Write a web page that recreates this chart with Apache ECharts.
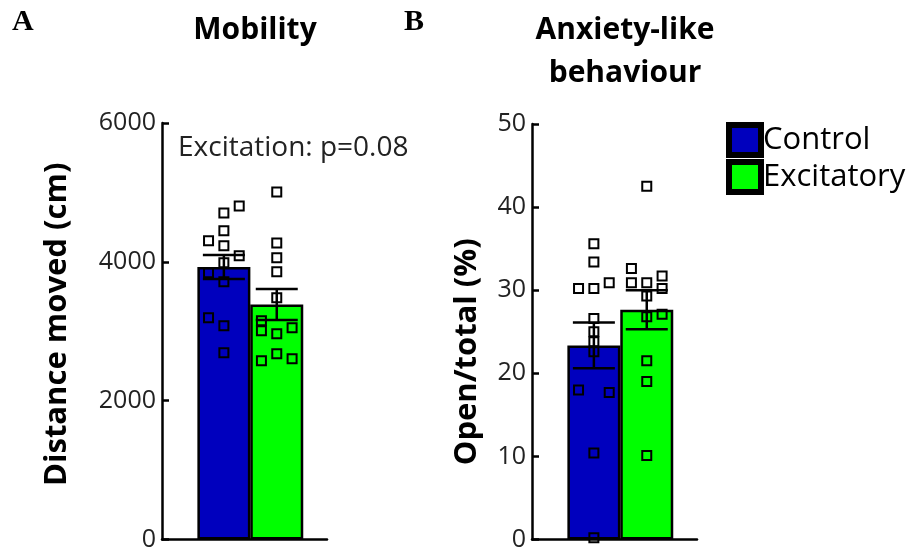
<!DOCTYPE html>
<html>
<head>
<meta charset="utf-8">
<script src="https://cdn.jsdelivr.net/npm/echarts@6/dist/echarts.min.js"></script>
<style>
  html, body { margin: 0; padding: 0; background: #fff; }
  #chartmain { width: 915px; height: 552px; }
</style>
</head>
<body>
<div id="chartmain"></div>
<script>
// groups
var groups = ['Control', 'Excitatory'];
var colors = ['#0000BE', '#00FF00'];

// panel A: distance moved (cm)
var meanA = [3925, 3385];
var semA = [172, 224];
var ctrlA = [4806, 4705, 4446, 4302, 4230, 4086, 3986, 3842, 3712, 3194, 3079, 2691];
var ctrlAcol = [1, 0, 0, -1, 0, 1, 0, -1, 0, -1, 0, 0];
var excA = [5007, 4273, 4058, 3856, 3482, 3151, 3007, 3050, 2964, 2576, 2676, 2604];
var excAcol = [0, 0, 0, 0, 0, -1, -1, 1, 0, -1, 0, 1];
var ticksA = [0, 2000, 4000, 6000];

// panel B: open/total (%)
var meanB = [23.35, 27.65];
var semB = [2.75, 2.35];
var ctrlB = [35.6, 33.4, 30.2, 30.2, 30.9, 26.6, 25.0, 23.8, 22.6, 18.0, 17.7, 10.4, 0.2];
var ctrlBcol = [0, 0, -1, 0, 1, 0, 0, 0, 0, -1, 1, 0, 0];
var excB = [42.5, 32.6, 30.9, 30.9, 31.7, 30.2, 29.3, 26.8, 27.1, 21.5, 19.0, 10.1];
var excBcol = [0, -1, -1, 0, 1, 1, 0, 0, 1, 0, 0, 0];
var ticksB = [0, 10, 20, 30, 40, 50];

var JIT = 0.29;
var sans = 'Open Sans';

function pts(vals, cols, g) {
  return vals.map(function (v, i) { return [g + cols[i] * JIT, v]; });
}

function errSeries(idx, means, sems) {
  return {
    type: 'custom',
    xAxisIndex: idx, yAxisIndex: idx,
    z: 5,
    silent: true,
    data: means.map(function (m, i) { return [i, m - sems[i], m + sems[i]]; }),
    renderItem: function (params, api) {
      var x = api.value(0);
      var lo = api.coord([x, api.value(1)]);
      var hi = api.coord([x, api.value(2)]);
      var hw = 21;
      var st = { stroke: '#000', lineWidth: 2.5 };
      return {
        type: 'group',
        children: [
          { type: 'line', shape: { x1: lo[0], y1: lo[1], x2: hi[0], y2: hi[1] }, style: st },
          { type: 'line', shape: { x1: lo[0] - hw, y1: lo[1], x2: lo[0] + hw, y2: lo[1] }, style: st },
          { type: 'line', shape: { x1: hi[0] - hw, y1: hi[1], x2: hi[0] + hw, y2: hi[1] }, style: st }
        ]
      };
    }
  };
}

function barSeries(idx, means, g) {
  return {
    name: groups[g],
    type: 'bar',
    xAxisIndex: idx, yAxisIndex: idx,
    barWidth: 53,
    barGap: '-100%',
    data: [[g, means[g]]],
    itemStyle: { color: colors[g], borderColor: '#000', borderWidth: 2.5 },
    z: 2
  };
}

// hollow squares: the bar colour shows through inside the bars
function dotSeries(idx, vals, cols, g) {
  return {
    type: 'scatter',
    xAxisIndex: idx, yAxisIndex: idx,
    symbol: 'rect',
    symbolSize: 9,
    data: pts(vals, cols, g),
    itemStyle: { color: 'rgba(0,0,0,0)', borderColor: '#000', borderWidth: 2, opacity: 1 },
    z: 4
  };
}

var axisLine = { show: true, onZero: false, lineStyle: { color: '#000', width: 2.5 } };

function xAx(idx) {
  return {
    gridIndex: idx, type: 'value', min: -1.17, max: 1.95,
    axisLine: axisLine, axisTick: { show: false }, axisLabel: { show: false },
    splitLine: { show: false }
  };
}

function yAx(idx, ticks, name, gap, pad) {
  return {
    gridIndex: idx, type: 'value',
    min: ticks[0], max: ticks[ticks.length - 1], interval: ticks[1] - ticks[0],
    name: name, nameLocation: 'middle', nameGap: gap,
    nameTextStyle: { fontFamily: sans, fontWeight: 'bold', fontSize: 31, color: '#000', padding: pad },
    axisLine: axisLine,
    axisTick: { show: true, inside: true, length: 7, lineStyle: { color: '#000', width: 2.5 } },
    axisLabel: { fontFamily: sans, fontSize: 25, color: '#222', margin: 6, formatter: function (v) { return String(v); } },
    splitLine: { show: false }
  };
}

var bold = { fontFamily: sans, fontWeight: 'bold', fontSize: 30, color: '#000' };
var serif = { fontFamily: 'Liberation Serif', fontWeight: 'bold', fontSize: 30, color: '#000' };

var option = {
  backgroundColor: '#fff',
  animation: false,
  title: [
    { text: 'A', left: 7, top: 2, textStyle: serif },
    { text: 'B', left: 399, top: 2, textStyle: serif },
    { text: 'Mobility', left: 250, top: 10, textAlign: 'center', textStyle: bold },
    { text: 'Anxiety-like', left: 620, top: 10, textAlign: 'center', textStyle: bold },
    { text: 'behaviour', left: 620, top: 53, textAlign: 'center', textStyle: bold }
  ],
  legend: {
    orient: 'vertical', left: 721, top: 117,
    itemWidth: 32, itemHeight: 30, itemGap: 1,
    icon: 'rect',
    data: groups,
    itemStyle: { borderColor: '#000', borderWidth: 6 },
    textStyle: { fontFamily: sans, fontSize: 31, lineHeight: 36, color: '#000', padding: [0, 0, 0, -3] }
  },
  graphic: [
    { type: 'text', left: 178, top: 134, style: { text: 'Excitation: p=0.08', fontFamily: sans, fontSize: 28, fill: '#222' } }
  ],
  grid: [
    { left: 162, top: 123, width: 165, height: 417 },
    { left: 532, top: 124, width: 165, height: 416 }
  ],
  xAxis: [xAx(0), xAx(1)],
  yAxis: [
    yAx(0, ticksA, 'Distance moved (cm)', 89, [0, 0, 0, 14]),
    yAx(1, ticksB, 'Open/total (%)', 49, [0, 40, 0, 0])
  ],
  series: [
    barSeries(0, meanA, 0),
    barSeries(0, meanA, 1),
    dotSeries(0, ctrlA, ctrlAcol, 0),
    dotSeries(0, excA, excAcol, 1),
    errSeries(0, meanA, semA),
    barSeries(1, meanB, 0),
    barSeries(1, meanB, 1),
    dotSeries(1, ctrlB, ctrlBcol, 0),
    dotSeries(1, excB, excBcol, 1),
    errSeries(1, meanB, semB)
  ]
};

var myChart = echarts.init(document.getElementById('chartmain'));
myChart.setOption(option);
</script>
</body>
</html>
